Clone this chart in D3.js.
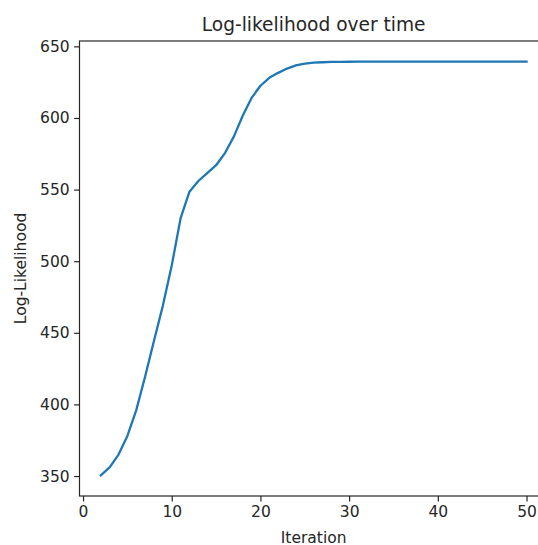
<!DOCTYPE html>
<html>
<head>
<meta charset="utf-8">
<script src="https://cdn.jsdelivr.net/npm/d3@7"></script>
<style>
  body { margin: 0; background: #fff; }
  svg { display: block; }
</style>
</head>
<body>
<div id="chart"></div>
<script>
// Log-likelihood per EM iteration
const iterations = d3.range(2, 51);
const logLik = [
  350.5, 356, 365, 378, 396, 419.5, 444.5, 469, 497, 530,
  548.5, 556, 561.5, 567, 575.5, 587, 601.5, 614, 622.5, 628,
  631.5, 634.5, 636.7, 637.9, 638.6, 638.9, 639.1, 639.2, 639.25, 639.3,
  639.3, 639.3, 639.3, 639.3, 639.3, 639.3, 639.3, 639.3, 639.3, 639.3,
  639.3, 639.3, 639.3, 639.3, 639.3, 639.3, 639.3, 639.3, 639.3
];
const xTicks = [0, 10, 20, 30, 40, 50];
const yTicks = [350, 400, 450, 500, 550, 600, 650];

const width = 538, height = 545;
const plotLeft = 79.5, plotRight = 547.8, plotTop = 41, plotBottom = 496;
const fontSize = 15.5;
const ink = "#262626";

const data = iterations.map((d, i) => ({ x: d, y: logLik[i] }));

// matplotlib-style 5% margins around the data
const pad = (ext) => {
  const r = ext[1] - ext[0];
  return [ext[0] - 0.05 * r, ext[1] + 0.05 * r];
};

const x = d3.scaleLinear().domain(pad(d3.extent(iterations))).range([plotLeft, plotRight]);
const y = d3.scaleLinear().domain(pad(d3.extent(logLik))).range([plotBottom, plotTop]);

const svg = d3.select("#chart").append("svg")
  .attr("width", width)
  .attr("height", height)
  .attr("font-family", "DejaVu Sans, sans-serif");

// line
svg.append("path")
  .datum(data)
  .attr("fill", "none")
  .attr("stroke", "#1f77b4")
  .attr("stroke-width", 2.3)
  .attr("stroke-linejoin", "round")
  .attr("stroke-linecap", "square")
  .attr("d", d3.line().x(d => x(d.x)).y(d => y(d.y)));

// axes
const xAxis = svg.append("g")
  .attr("transform", `translate(0,${plotBottom})`)
  .call(d3.axisBottom(x).tickValues(xTicks).tickSize(5.4).tickPadding(4.5));
const yAxis = svg.append("g")
  .attr("transform", `translate(${plotLeft},0)`)
  .call(d3.axisLeft(y).tickValues(yTicks).tickSize(5.4).tickPadding(4.5));

[xAxis, yAxis].forEach(g => {
  g.attr("font-size", fontSize).attr("font-family", "DejaVu Sans, sans-serif");
  g.select(".domain").remove();
  g.selectAll(".tick line").attr("stroke", ink).attr("stroke-width", 1.2);
  g.selectAll(".tick text").attr("fill", ink);
});

// spines
svg.append("rect")
  .attr("x", plotLeft).attr("y", plotTop)
  .attr("width", plotRight - plotLeft).attr("height", plotBottom - plotTop)
  .attr("fill", "none")
  .attr("stroke", ink)
  .attr("stroke-width", 1.2);

// title and labels
svg.append("text")
  .attr("x", (plotLeft + plotRight) / 2)
  .attr("y", 30.5)
  .attr("text-anchor", "middle")
  .attr("font-size", 18.6)
  .attr("fill", ink)
  .text("Log-likelihood over time");

svg.append("text")
  .attr("x", (plotLeft + plotRight) / 2)
  .attr("y", 542.5)
  .attr("text-anchor", "middle")
  .attr("font-size", fontSize)
  .attr("fill", ink)
  .text("Iteration");

svg.append("text")
  .attr("transform", `translate(25.5,${(plotTop + plotBottom) / 2}) rotate(-90)`)
  .attr("text-anchor", "middle")
  .attr("font-size", fontSize)
  .attr("fill", ink)
  .text("Log-Likelihood");
</script>
</body>
</html>
